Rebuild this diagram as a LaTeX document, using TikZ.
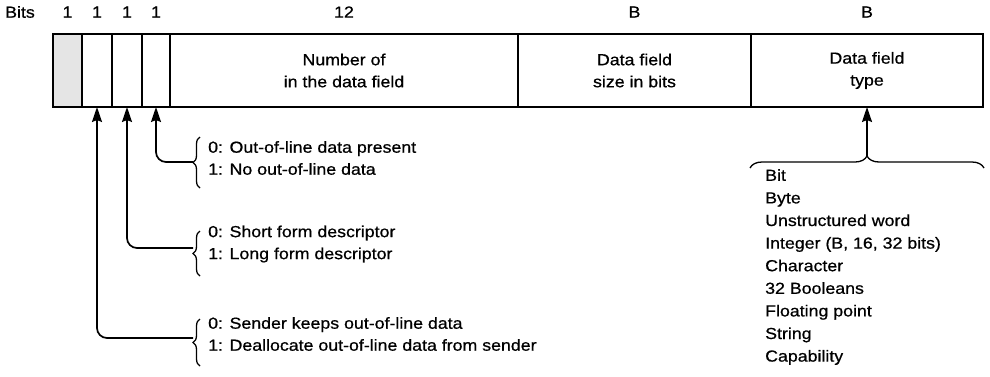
\documentclass[tikz,border=0pt]{standalone}
\usepackage{fontspec}
\setmainfont{Liberation Sans}[FakeStretch=1.11, FakeBold=0.7]
\usepackage{tikz}
\usetikzlibrary{arrows.meta,positioning,decorations.pathreplacing}

\begin{document}
\begin{tikzpicture}[
    x=1pt, y=-1pt,
    font=\fontsize{16}{22}\selectfont,
    cell/.style={draw, line width=1.4pt, minimum height=73pt, inner sep=0pt, outer sep=0pt, align=center, anchor=north west},
    hdr/.style={inner sep=0pt},
    note/.style={align=left, anchor=west, inner sep=0pt},
    brc/.style={decorate, decoration={brace, amplitude=7pt}, line width=1.3pt},
    arr/.style={-{Stealth[length=15pt, width=10pt, inset=2pt]}, line width=1.7pt, rounded corners=10pt}
]
\useasboundingbox (0,0) rectangle (990,376);

% Descriptor word
\node[cell, minimum width=29pt, fill=black!10] (unused) at (53,34) {};
\node[cell, minimum width=30pt, right=0pt of unused] (dealloc) {};
\node[cell, minimum width=30pt, right=0pt of dealloc] (form) {};
\node[cell, minimum width=28pt, right=0pt of form] (inline) {};
\node[cell, minimum width=348pt, right=0pt of inline] (count) {Number of\\in the data field};
\node[cell, minimum width=233pt, right=0pt of count] (size) {Data field\\size in bits};
\node[cell, minimum width=232pt, right=0pt of size] (type) {Data field\\type};
\draw[line width=2.4pt] (unused.north west) rectangle (type.south east);

% Field widths
\node[hdr, anchor=west] (bitslbl) at (5,12) {Bits};
\node[hdr] (w0) at (unused |- bitslbl) {1};
\node[hdr] (w1) at (dealloc |- bitslbl) {1};
\node[hdr] (w2) at (form |- bitslbl) {1};
\node[hdr] (w3) at (inline |- bitslbl) {1};
\node[hdr] (w4) at (count |- bitslbl) {12};
\node[hdr] (w5) at (size |- bitslbl) {B};
\node[hdr] (w6) at (type |- bitslbl) {B};

% Bit meanings
\draw[brc] (200,188) -- (200,137);
\coordinate (tip1) at (193,162);
\node[note] (inlinenote) at (208,158) {0: Out-of-line data present\\1: No out-of-line data};
\draw[brc] (200,276) -- (200,231);
\coordinate (tip2) at (193,248);
\node[note] (formnote) at (208,244) {0: Short form descriptor\\1: Long form descriptor};
\draw[brc] (200,366) -- (200,319);
\coordinate (tip3) at (193,338);
\node[note] (deallocnote) at (208,334) {0: Sender keeps out-of-line data\\1: Deallocate out-of-line data from sender};

\draw[arr] (tip1) -| (inline.south);
\draw[arr] (tip2) -| (form.south);
\draw[arr] (tip3) -| (dealloc.south);

% Type list
\draw[brc, decoration={brace, amplitude=12pt}] (750,168) -- (984,168);
\coordinate (tip4) at (867,156);
\draw[arr] (tip4) -- (type.south);
\node[note, anchor=north west, font=\fontsize{16}{22.6}\selectfont] (typelist) at (765,169)
    {Bit\\Byte\\Unstructured word\\Integer (B, 16, 32 bits)\\Character\\32 Booleans\\Floating point\\String\\Capability};
\end{tikzpicture}
\end{document}
